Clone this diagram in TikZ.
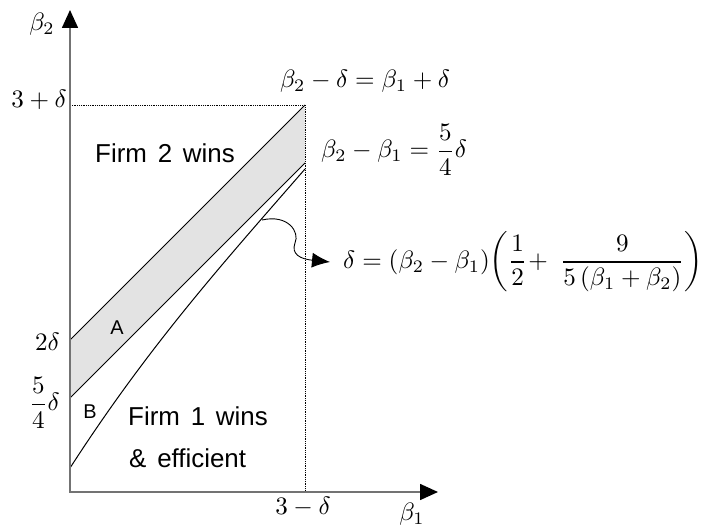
\documentclass[tikz,border=0pt]{standalone}
\usepackage{amsmath}
\usepackage{fontspec}
\newfontfamily\arialf[WordSpace={1.5}]{Liberation Sans}
\usetikzlibrary{arrows.meta}
\newcommand\mlbl[1]{\scalebox{2.52}{$#1$}}
\begin{document}
\begin{tikzpicture}[x=1bp,y=-1bp,
  axis/.style={draw=black!55, line width=1.6bp},
  lbl/.style={inner sep=0pt},
  txt/.style={inner sep=0pt, font=\arialf\fontsize{26}{30}\selectfont, anchor=west},
  letter/.style={inner sep=0pt, font=\arialf\fontsize{20}{24}\selectfont},
  dots/.style={densely dotted, line width=0.8bp},
  bound/.style={line width=1bp}]
\useasboundingbox (0,0) rectangle (702,526);
\coordinate (O) at (70,492);
\coordinate (Ytip) at (70,10);
\coordinate (Xtip) at (438,492);
\coordinate (TR) at (305,105);
\coordinate (Ytop) at (70,105);
\coordinate (Xr) at (305,492);
\coordinate (U0) at (70,340);
\coordinate (L0) at (70,398);
\coordinate (L1) at (305,163);
\coordinate (C0) at (70,468);
\coordinate (C1) at (305,169);
\coordinate (Cm) at (262,220);
% band
\fill[black!11] (U0) -- (TR) -- (L1) -- (L0) -- cycle;
\draw[dots] (Ytop) -- (TR) -- (Xr);
\draw[bound] (U0) -- (TR);
\draw[bound] (L0) -- (L1);
\draw[bound] (C0) .. controls (150,344) and (225,261) .. (C1);
% axes
\draw[axis, {Triangle[length=18bp,width=16bp,color=black,fill=black]}-{Triangle[length=18bp,width=16bp,color=black,fill=black]}] (Ytip) -- (O) -- (Xtip);
% labels
\node[lbl] (b2) at (42,24) {\mlbl{\beta_2}};
\node[lbl, anchor=east] (l3p) at (67,100) {\mlbl{3+\delta}};
\node[lbl, anchor=east] (l2d) at (60,342) {\mlbl{2\delta}};
\node[lbl, anchor=east] (l54) at (60,403) {\mlbl{\dfrac{5}{4}\delta}};
\node[lbl] (l3m) at (303,507) {\mlbl{3-\delta}};
\node[lbl] (b1) at (412,514) {\mlbl{\beta_1}};
\node[lbl] (e1) at (365,81) {\mlbl{\beta_2-\delta=\beta_1+\delta}};
\node[lbl] (e2) at (394,150) {\mlbl{\beta_2-\beta_1=\dfrac{5}{4}\delta}};
\node[lbl, anchor=west] (e3) at (343,262) {\mlbl{\delta=(\beta_2-\beta_1)\mathopen{}\left(\dfrac{1}{2}\!+\;\dfrac{9}{5\,(\beta_1+\beta_2)}\right)}};
\node[txt] (f2) at (95,153) {Firm 2 wins};
\node[txt] (f1) at (128,416) {Firm 1 wins};
\node[txt] (f1b) at (129,458) {\& efficient};
\node[letter] (A) at (117,328) {A};
\node[letter] (B) at (90,412) {B};
% arrow
\draw[line width=0.9bp, -{Latex[length=18bp,width=15bp]}] (Cm) .. controls (288,214) and (300,232) .. (295,243) .. controls (291,254) and (300,259) .. ([xshift=-13bp]e3.west);
\end{tikzpicture}
\end{document}
